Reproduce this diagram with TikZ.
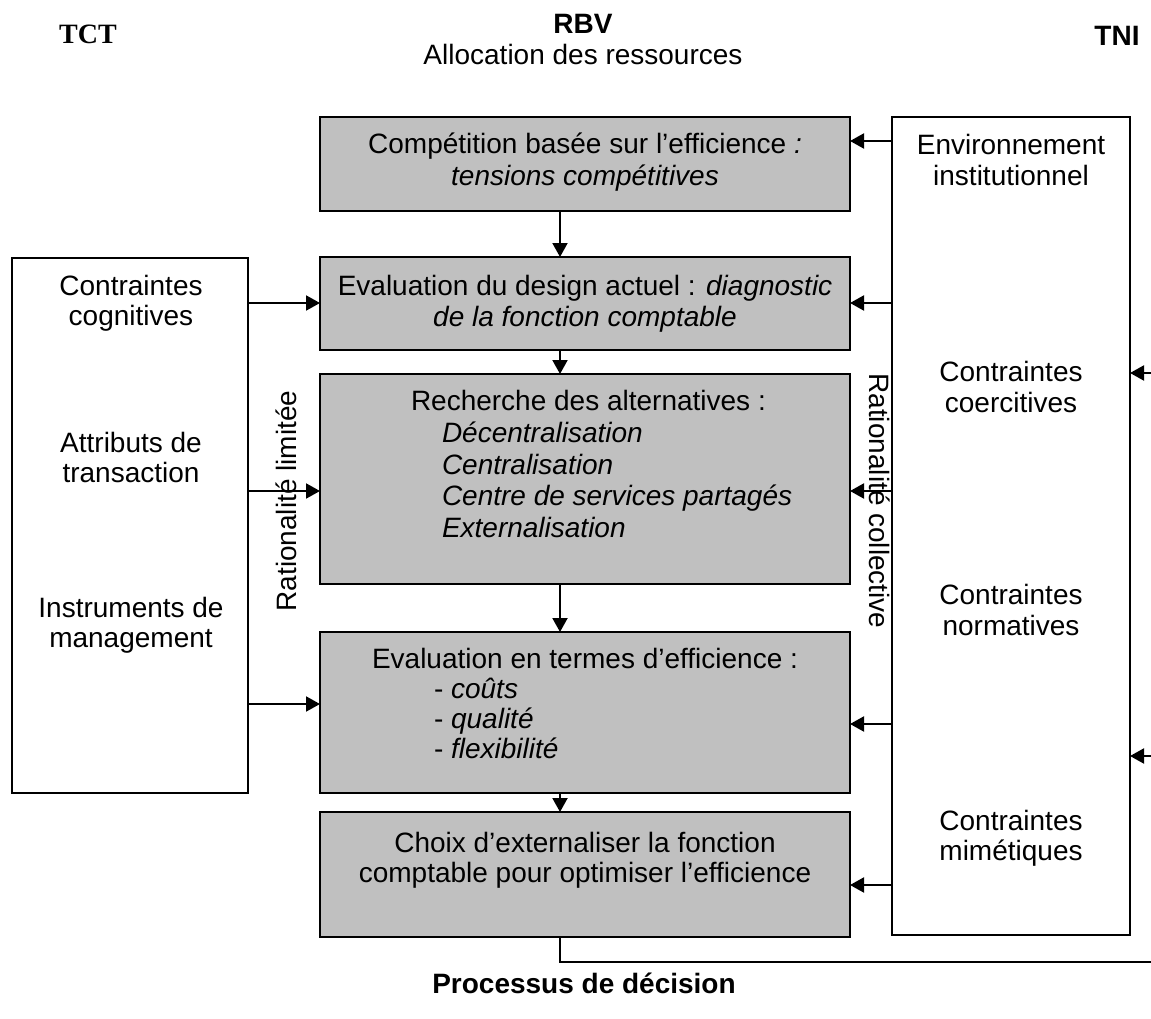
\documentclass[tikz,border=0pt]{standalone}
\usepackage{fontspec}
\setmainfont{Liberation Sans}
\newfontfamily\timesfont{Liberation Serif}
\usetikzlibrary{arrows.meta}
\definecolor{boxgray}{RGB}{192,192,192}

\begin{document}
\begin{tikzpicture}[x=1pt,y=-1pt,
  every node/.style={font=\fontsize{28}{32}\selectfont, inner sep=0pt, outer sep=0pt},
  gbox/.style={draw, line width=2pt, fill=boxgray},
  wbox/.style={draw, line width=2pt, fill=white},
  arr/.style={line width=2pt, -{Triangle[length=14pt,width=15pt]}},
  link/.style={line width=2pt},
  lbl/.style={anchor=base},
  lft/.style={anchor=base west},
  item/.style={anchor=base west, font=\fontsize{28}{32}\selectfont\itshape},
  head/.style={anchor=base, font=\bfseries\fontsize{28}{32}\selectfont}]
\useasboundingbox (0,0) rectangle (1151,1019);

% headings
\node[head, font=\timesfont\bfseries\fontsize{28}{32}\selectfont] (tct-title) at (88,44) {TCT};
\node[head] (rbv-title) at (583,34) {RBV};
\node[lbl] (rbv-sub) at (583,65) {Allocation des ressources};
\node[head] (tni-title) at (1117,46) {TNI};
\node[head] (proc-title) at (584,993) {Processus de décision};

% decision process boxes
\node[gbox, minimum width=530pt, minimum height=94pt]  (b1) at (585,164) {};
\node[gbox, minimum width=530pt, minimum height=93pt]  (b2) at (585,303.5) {};
\node[gbox, minimum width=530pt, minimum height=210pt] (b3) at (585,479) {};
\node[gbox, minimum width=530pt, minimum height=161pt] (b4) at (585,712.5) {};
\node[gbox, minimum width=530pt, minimum height=125pt] (b5) at (585,874.5) {};

% side boxes
\node[wbox, minimum width=236pt, minimum height=535pt] (tct) at (130,525.5) {};
\node[wbox, minimum width=238pt, minimum height=818pt] (tni) at (1011,526) {};

% texts of the process boxes
\node[lbl] (t1a) at (585,154) {Compétition basée sur l’efficience \textit{:}};
\node[lbl] (t1b) at (585,186) {\textit{tensions compétitives}};
\node[lbl] (t2a) at (585,295) {Evaluation du design actuel : \textit{diagnostic}};
\node[lbl] (t2b) at (585,326) {\textit{de la fonction comptable}};
\node[lft] (t3) at (411,410) {Recherche des alternatives :};
\node[item] (t3a) at (442,442) {Décentralisation};
\node[item] (t3b) at (442,474) {Centralisation};
\node[item] (t3c) at (442,505) {Centre de services partagés};
\node[item] (t3d) at (442,537) {Externalisation};
\node[lbl] (t4) at (585,668) {Evaluation en termes d’efficience :};
\node[lft] (t4a) at (434,698) {- \textit{coûts}};
\node[lft] (t4b) at (434,728) {- \textit{qualité}};
\node[lft] (t4c) at (434,758) {- \textit{flexibilité}};
\node[lbl] (t5a) at (585,852) {Choix d’externaliser la fonction};
\node[lbl] (t5b) at (585,882) {comptable pour optimiser l’efficience};

% texts of the side boxes
\node[lbl] (l1a) at (131,295) {Contraintes};
\node[lbl] (l1b) at (131,325) {cognitives};
\node[lbl] (l2a) at (131,452) {Attributs de};
\node[lbl] (l2b) at (131,482) {transaction};
\node[lbl] (l3a) at (131,617) {Instruments de};
\node[lbl] (l3b) at (131,647) {management};
\node[lbl] (r0a) at (1011,155) {Environnement};
\node[lbl] (r0b) at (1011,186) {institutionnel};
\node[lbl] (r1a) at (1011,381) {Contraintes};
\node[lbl] (r1b) at (1011,412) {coercitives};
\node[lbl] (r2a) at (1011,604) {Contraintes};
\node[lbl] (r2b) at (1011,635) {normatives};
\node[lbl] (r3a) at (1011,830) {Contraintes};
\node[lbl] (r3b) at (1011,860) {mimétiques};

% vertical rationality labels
\node[rotate=90] (ratlim) at (286,501) {Rationalité limitée};
\node[rotate=-90] (ratcol) at (880,501) {Rationalité collective};

% reference heights and columns
\coordinate (ax) at (560,0);
\coordinate (ya) at (0,141);
\coordinate (yb) at (0,303);
\coordinate (yc) at (0,491);
\coordinate (yd) at (0,724);
\coordinate (ye) at (0,885);
\coordinate (yl1) at (0,303);
\coordinate (yl2) at (0,491);
\coordinate (yl3) at (0,704);
\coordinate (out1) at (1151,373);
\coordinate (out2) at (1151,756);
\coordinate (fb1) at (560,962);
\coordinate (fb2) at (1151,962);

% sequence of the decision process
\draw[arr] (b1.south -| ax) -- (b2.north -| ax);
\draw[arr] (b2.south -| ax) -- (b3.north -| ax);
\draw[arr] (b3.south -| ax) -- (b4.north -| ax);
\draw[arr] (b4.south -| ax) -- (b5.north -| ax);

% institutional influences
\draw[arr] (tni.west |- ya) -- (b1.east |- ya);
\draw[arr] (tni.west |- yb) -- (b2.east |- yb);
\draw[arr] (tni.west |- yc) -- (b3.east |- yc);
\draw[arr] (tni.west |- yd) -- (b4.east |- yd);
\draw[arr] (tni.west |- ye) -- (b5.east |- ye);
\draw[arr] (out1) -- (tni.east |- out1);
\draw[arr] (out2) -- (tni.east |- out2);

% transaction cost influences
\draw[arr] (tct.east |- yl1) -- (b2.west |- yl1);
\draw[arr] (tct.east |- yl2) -- (b3.west |- yl2);
\draw[arr] (tct.east |- yl3) -- (b4.west |- yl3);

% feedback line
\draw[link] (b5.south -| ax) -- (fb1) -- (fb2);
\end{tikzpicture}
\end{document}
